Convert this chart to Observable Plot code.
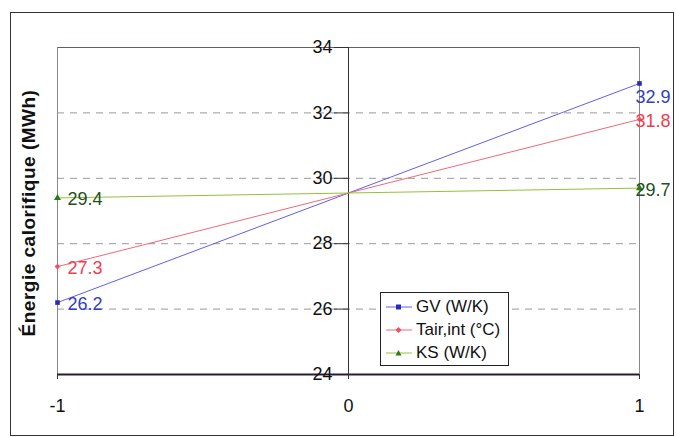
<!DOCTYPE html>
<html>
<head>
<meta charset="utf-8">
<script src="https://cdn.jsdelivr.net/npm/d3@7"></script>
<script src="https://cdn.jsdelivr.net/npm/@observablehq/plot@0.6"></script>
<style>
  body { margin: 0; background: #fff; font-family: "Liberation Sans", Arial, sans-serif; }
  #wrap { position: relative; width: 676px; height: 437px; }
  #border { position: absolute; left: 10px; top: 12px; width: 664px; height: 424px; border: 1px solid #333; box-sizing: border-box; pointer-events: none; }
  #legend { position: absolute; left: 380px; top: 292px; width: 129px; height: 74px; border: 1px solid #222; background: #fff; box-sizing: border-box; font-size: 17px; color: #111; }
  .row { position: absolute; left: 0; height: 22px; display: flex; align-items: center; white-space: nowrap; }
  .row svg { margin-left: 5px; margin-right: 4px; }
</style>
</head>
<body>
<div id="wrap">
  <div id="chart"></div>
  <div id="border"></div>
  <div id="legend"></div>
</div>
<script>
const xValues = [-1, 0, 1];
const seriesNames = ["GV (W/K)", "Tair,int (°C)", "KS (W/K)"];
const gvValues = [26.2, 29.55, 32.9];
const tairValues = [27.3, 29.55, 31.8];
const ksValues = [29.4, 29.55, 29.7];
const yTicks = [24, 26, 28, 30, 32, 34];
const gridTicks = [26, 28, 30, 32];
const xTicks = [-1, 0, 1];
const yTitle = "Énergie calorifique (MWh)";
const lineColors = ["#6060ea", "#f06878", "#92c238"];
const markColors = ["#2a2ab8", "#f05060", "#2a7a1a"];
const labelColors = ["#3040c0", "#ee4050", "#1e501e"];
const symbols = ["square", "diamond2", "triangle"];

const allValues = [gvValues, tairValues, ksValues];
const data = [];
allValues.forEach((vals, s) => vals.forEach((v, i) => data.push({series: seriesNames[s], s, x: xValues[i], y: v})));
const ends = data.filter(d => d.x !== 0);
const labelDy = {"0:-1": 2, "0:1": 14, "1:-1": 2, "1:1": 2, "2:-1": 1, "2:1": 2};

const chart = Plot.plot({
  width: 676,
  height: 437,
  marginLeft: 57,
  marginRight: 37,
  marginTop: 47,
  marginBottom: 63,
  style: {fontFamily: "Liberation Sans, Arial, sans-serif", background: "transparent"},
  x: {domain: [-1, 1]},
  y: {domain: [24, 34], axis: null},
  marks: [
    Plot.ruleY(gridTicks, {stroke: "#999", strokeDasharray: "7,6", strokeWidth: 1}),
    Plot.ruleY([34], {stroke: "#6a5a70", strokeWidth: 1}),
    Plot.ruleX([-1, 1], {stroke: "#888", strokeWidth: 1}),
    Plot.ruleX([0], {stroke: "#333", strokeWidth: 1}),
    Plot.ruleY(yTicks, {x1: 0, x2: 0, insetLeft: -14, insetRight: 0, stroke: "#333", strokeWidth: 1}),
    Plot.ruleY([24], {stroke: "#2a1a3a", strokeWidth: 2}),
    Plot.text(yTicks, {x: 0, y: d => d, text: d => String(d), textAnchor: "end", dx: -16, fontSize: 18, fill: "#111"}),
    Plot.axisX({ticks: xTicks, tickSize: 5, tickPadding: 20, fontSize: 18, tickFormat: d => String(d), label: null, color: "#111", stroke: "#333"}),
    Plot.text({length: 1}, {frameAnchor: "left", textAnchor: "middle", text: () => yTitle, rotate: -90, dx: -29, dy: 2, fontSize: 19, fontWeight: "bold", fill: "#111", style: "letter-spacing:0.5px"}),
    Plot.line(data, {x: "x", y: "y", z: "series", stroke: d => lineColors[d.s], strokeWidth: 1}),
    Plot.dot(ends, {x: "x", y: "y", symbol: d => symbols[d.s], fill: d => markColors[d.s], stroke: "none", r: 2.6}),
    Plot.text(ends, {
      x: "x", y: "y",
      text: d => d.y.toFixed(1),
      textAnchor: "start",
      fontSize: 18,
      fill: d => labelColors[d.s]
    })
  ]
});

document.getElementById("chart").appendChild(chart);
const textGroups = chart.querySelectorAll("g[aria-label='text']");
// title letter spacing
textGroups[1].setAttribute("letter-spacing", "0.5");
const labelGroup = textGroups[textGroups.length - 1];
labelGroup.querySelectorAll("text").forEach((t, i) => {
  const d = ends[i];
  const dx = d.x < 0 ? 10 : -4;
  const dy = labelDy[d.s + ":" + d.x];
  t.setAttribute("transform", (t.getAttribute("transform") || "") + ` translate(${dx},${dy})`);
});

// legend
const legend = document.getElementById("legend");
const rowTops = [3, 26, 49];
seriesNames.forEach((name, s) => {
  const row = document.createElement("div");
  row.className = "row";
  row.style.top = rowTops[s] + "px";
  const sym = s === 0 ? `<rect x="10" y="3.5" width="5" height="5" fill="${markColors[0]}"/>`
    : s === 1 ? `<path d="M12.5 3 L15.5 6 L12.5 9 L9.5 6 Z" fill="${markColors[1]}"/>`
    : `<path d="M12.5 3 L15.5 8.5 L9.5 8.5 Z" fill="${markColors[2]}"/>`;
  row.innerHTML = `<svg width="26" height="12"><line x1="0" x2="26" y1="6" y2="6" stroke="${lineColors[s]}" stroke-width="1"/>${sym}</svg><span>${name}</span>`;
  legend.appendChild(row);
});
</script>
</body>
</html>
